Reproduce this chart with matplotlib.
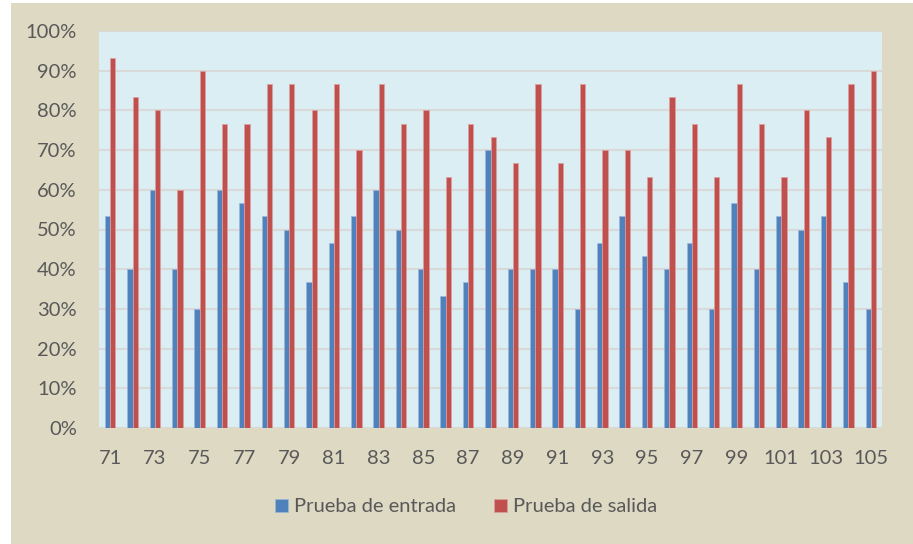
import matplotlib
matplotlib.use("Agg")
import matplotlib.pyplot as plt
import numpy as np
from matplotlib.patches import Rectangle
from matplotlib.ticker import FuncFormatter

categories = list(range(71, 106))
entrada = [53.3, 40, 60, 40, 30, 60, 56.7, 53.3, 50, 36.7,
           46.7, 53.3, 60, 50, 40, 33.3, 36.7, 70, 40, 40,
           40, 30, 46.7, 53.3, 43.3, 40, 46.7, 30, 56.7, 40,
           53.3, 50, 53.3, 36.7, 30]
salida = [93.3, 83.3, 80, 60, 90, 76.7, 76.7, 86.7, 86.7, 80,
          86.7, 70, 86.7, 76.7, 80, 63.3, 76.7, 73.3, 66.7, 86.7,
          66.7, 86.7, 70, 70, 63.3, 83.3, 76.7, 63.3, 86.7, 76.7,
          63.3, 80, 73.3, 86.7, 90]
series_names = ["Prueba de entrada", "Prueba de salida"]
yticks = [0, 10, 20, 30, 40, 50, 60, 70, 80, 90, 100]

plt.rcParams['font.family'] = ['Lato', 'DejaVu Sans']
txt = '#595959'

fig = plt.figure(figsize=(9.13, 5.44), dpi=100)
fig.patch.set_facecolor('white')
fig.add_artist(Rectangle((11 / 913, 0), 1 - 11 / 913, 1 - 3 / 544,
                         transform=fig.transFigure, facecolor='#DDD9C3',
                         edgecolor='none', zorder=0))

ax = fig.add_axes([99 / 913, 1 - 428 / 544, (882 - 99) / 913, (428 - 31) / 544])
ax.set_facecolor('#DBEEF3')

x = np.arange(len(categories))
w = 0.235
ax.bar(x - w / 2, entrada, width=w, color='#4F81BD', edgecolor='#9DB7DA',
       linewidth=0.5, label=series_names[0], zorder=3)
ax.bar(x + w / 2, salida, width=w, color='#C0504D', edgecolor='#DDA09E',
       linewidth=0.5, label=series_names[1], zorder=3)

ax.set_xlim(-0.5, len(categories) - 0.5)
ax.set_ylim(0, 100)
ax.set_yticks(yticks)
ax.yaxis.set_major_formatter(FuncFormatter(lambda v, p: f"{int(v)}%"))
ax.grid(axis='y', color='#D9D9D9', linewidth=1.5, zorder=1)
ax.set_xticks(x[::2])
ax.set_xticklabels([str(c) for c in categories[::2]])
for s in ax.spines.values():
    s.set_visible(False)
ax.tick_params(axis='both', length=0, colors=txt, labelsize=14.5)
ax.tick_params(axis='x', pad=16)
ax.tick_params(axis='y', pad=16)

fig.legend(loc='center', bbox_to_anchor=(466 / 913, 1 - 507 / 544), ncol=2,
           frameon=False, fontsize=14.5, labelcolor=txt, handlelength=0.65,
           handleheight=0.65, handletextpad=0.3, columnspacing=1.9)

fig.savefig('out.png', dpi=100, facecolor=fig.get_facecolor())
